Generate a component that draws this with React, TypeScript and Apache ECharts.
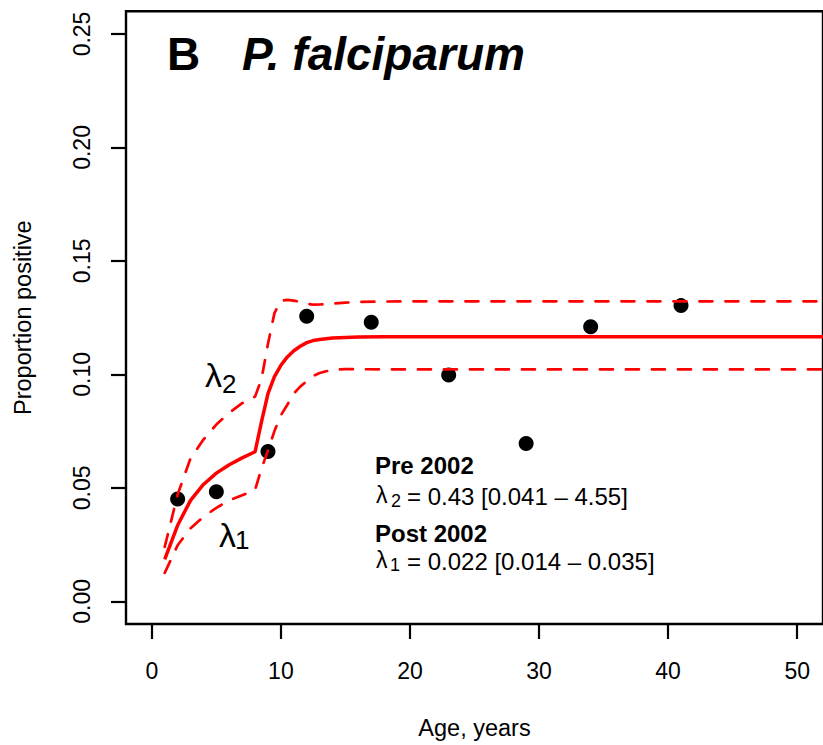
import React, { useEffect, useRef } from "react";
import * as echarts from "echarts";

// Observed data (age in years, proportion positive)
const pointAges = [2, 5, 9, 12, 17, 23, 29, 34, 41];
const pointValues = [0.0451, 0.0483, 0.066, 0.1256, 0.123, 0.0997, 0.0695, 0.121, 0.1303];

// Fitted curve at these ages
const curveAges = [1, 2, 3, 4, 5, 6, 7, 8, 8.5, 9, 9.5, 10, 10.5, 11, 11.5, 12, 12.5, 13, 14, 15, 16, 18, 20, 30, 40, 52];
const fitMid = [0.0185, 0.0335, 0.0445, 0.0515, 0.0565, 0.0602, 0.0632, 0.0659, 0.0792, 0.0915, 0.099, 0.104, 0.1077, 0.1104, 0.1124, 0.114, 0.1149, 0.1154, 0.116, 0.1163, 0.1165, 0.1166, 0.1166, 0.1166, 0.1166, 0.1166];
const fitUpper = [0.024, 0.047, 0.063, 0.0713, 0.0779, 0.0831, 0.0873, 0.0902, 0.098, 0.1135, 0.127, 0.1325, 0.1328, 0.1325, 0.1319, 0.1312, 0.1307, 0.1308, 0.1312, 0.1316, 0.1319, 0.1321, 0.1322, 0.1322, 0.1322, 0.1322];
const fitLower = [0.0125, 0.0247, 0.0322, 0.0372, 0.0412, 0.0445, 0.0467, 0.0491, 0.0585, 0.0665, 0.075, 0.082, 0.0866, 0.0916, 0.0946, 0.097, 0.0993, 0.1006, 0.1021, 0.1023, 0.1023, 0.1022, 0.1022, 0.1022, 0.1022, 0.1022];

const xTicks = [0, 10, 20, 30, 40, 50];
const yTicks = [0, 0.05, 0.1, 0.15, 0.2, 0.25];

const FONT = "'Liberation Sans', Arial, sans-serif";

export default function App() {
  const ref = useRef<HTMLDivElement>(null);
  useEffect(() => {
    document.body.style.margin = "0";
    const chart = echarts.init(ref.current!, null, { renderer: "svg" });
    const zip = (xs: number[], ys: number[]) => xs.map((x, i) => [x, ys[i]]);
    const txt = (text: string, x: number, y: number, size: number, extra: any = {}) => ({
      type: "text",
      x,
      y,
      z: 100,
      style: {
        text,
        fontSize: size,
        fontFamily: FONT,
        fill: "#000",
        align: "left",
        verticalAlign: "middle",
        ...extra,
      },
    });
    chart.setOption({
      animation: false,
      backgroundColor: "#fff",
      grid: {
        left: 126,
        top: 11.3,
        right: -5.8,
        bottom: 118.9,
        show: true,
        borderColor: "#000",
        borderWidth: 2.4,
        backgroundColor: "transparent",
      },
      xAxis: {
        type: "value",
        min: -2,
        max: 52,
        name: "Age, years",
        nameLocation: "middle",
        nameGap: 92,
        nameTextStyle: { fontSize: 23.5, fontFamily: FONT, color: "#000" },
        axisLine: { show: false, onZero: false },
        splitLine: { show: false },
        axisTick: {
          show: true,
          inside: false,
          length: 15,
          lineStyle: { color: "#000", width: 2.2 },
          customValues: xTicks,
        },
        axisLabel: {
          fontSize: 23,
          fontFamily: FONT,
          color: "#000",
          margin: 35,
          customValues: xTicks,
        },
      },
      yAxis: {
        type: "value",
        min: -0.01,
        max: 0.26,
        name: "Proportion positive",
        nameLocation: "middle",
        nameGap: 91,
        nameRotate: 90,
        nameTextStyle: { fontSize: 23.5, fontFamily: FONT, color: "#000" },
        axisLine: { show: false, onZero: false },
        splitLine: { show: false },
        axisTick: {
          show: true,
          inside: false,
          length: 15,
          lineStyle: { color: "#000", width: 2.2 },
          customValues: yTicks,
        },
        axisLabel: {
          fontSize: 23,
          fontFamily: FONT,
          color: "#000",
          rotate: 90,
          margin: 33,
          customValues: yTicks,
          formatter: (v: number) => v.toFixed(2),
        },
      },
      series: [
        {
          type: "scatter",
          data: zip(pointAges, pointValues),
          symbol: "circle",
          symbolSize: 15,
          itemStyle: { color: "#000", opacity: 1 },
          z: 2,
        },
        {
          type: "line",
          data: zip(curveAges, fitMid),
          showSymbol: false,
          symbol: "none",
          lineStyle: { color: "#ff0000", width: 3.5 },
          z: 3,
        },
        {
          type: "line",
          data: zip(curveAges, fitUpper),
          showSymbol: false,
          symbol: "none",
          lineStyle: { color: "#ff0000", width: 2.7, type: [13, 13], cap: "round" },
          z: 3,
        },
        {
          type: "line",
          data: zip(curveAges, fitLower),
          showSymbol: false,
          symbol: "none",
          lineStyle: { color: "#ff0000", width: 2.7, type: [13, 13], cap: "round" },
          z: 3,
        },
      ],
      graphic: [
        txt("B", 167, 54, 46, { fontWeight: "bold" }),
        txt("P. falciparum", 242, 54, 46, { fontWeight: "bold", fontStyle: "italic" }),
        // curve labels
        txt("λ", 205, 375, 34),
        txt("2", 222, 383.5, 26),
        txt("λ", 219, 535, 34),
        txt("1", 235, 540, 26),
        // annotation
        txt("Pre 2002", 375, 465, 24, { fontWeight: "bold" }),
        txt("λ", 376, 495, 23),
        txt("2", 391, 500.5, 18),
        txt("= 0.43 [0.041 – 4.55]", 407, 496.5, 24),
        txt("Post 2002", 375, 533.5, 24, { fontWeight: "bold" }),
        txt("λ", 376, 559.5, 23),
        txt("1", 390, 565, 18),
        txt("= 0.022 [0.014 – 0.035]", 407, 561, 24),
      ],
    });
    return () => chart.dispose();
  }, []);
  return (
    <div
      ref={ref}
      style={{ position: "absolute", left: 0, top: 0, width: 823, height: 745 }}
    />
  );
}
